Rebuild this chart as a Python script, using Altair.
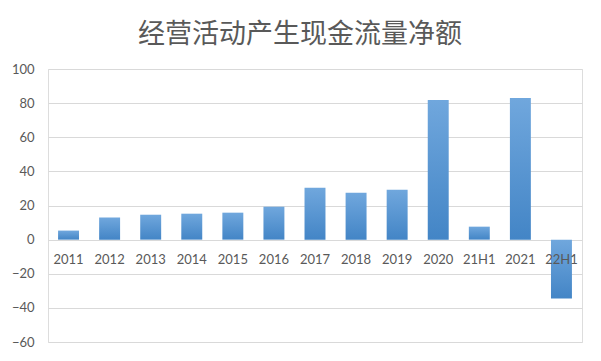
import altair as alt
import pandas as pd

categories = ["2011", "2012", "2013", "2014", "2015", "2016", "2017", "2018",
              "2019", "2020", "21H1", "2021", "22H1"]
values = [5.3, 12.9, 14.6, 15.2, 15.8, 19.3, 30.4, 27.5, 29.2, 81.9, 7.6, 83.0, -34.5]
title_text = "经营活动产生现金流量净额"

df = pd.DataFrame({"cat": categories, "val": values})

grad = alt.Gradient(
    gradient="linear",
    stops=[alt.GradientStop(color="#70a7dd", offset=0),
           alt.GradientStop(color="#4385c6", offset=1)],
    x1=0, x2=0, y1=0, y2=1,
)

chart = alt.Chart(df).mark_bar(color=grad).encode(
    x=alt.X("cat:N", sort=categories, title=None,
            scale=alt.Scale(paddingInner=0.49, paddingOuter=0.245),
            axis=alt.Axis(orient="bottom", offset=-102, domain=False, ticks=False,
                          grid=False, labelAngle=0, labelPadding=13, labelFont="Lato",
                          labelFontSize=13, labelColor="#595959", zindex=1)),
    y=alt.Y("val:Q", title=None,
            scale=alt.Scale(domain=[-60, 100], nice=False, zero=True),
            axis=alt.Axis(values=[-60, -40, -20, 0, 20, 40, 60, 80, 100],
                          domain=False, ticks=False, labelPadding=14,
                          labelFont="Lato", labelFontSize=13, labelColor="#595959",
                          gridColor="#d9d9d9", gridWidth=1)),
).properties(
    width=534, height=273,
    title=alt.TitleParams(title_text, anchor="middle", dx=-15, offset=14,
                          font="Noto Sans CJK SC", fontSize=27, fontWeight="normal",
                          color="#595959"),
    autosize=alt.AutoSizeParams(type="none"),
    padding={"left": 40, "top": 61, "right": 5, "bottom": 8},
).configure_view(strokeWidth=0, stroke="transparent").configure(background="white")

chart.save("out.html", embed_options={"renderer": "svg", "actions": False})
